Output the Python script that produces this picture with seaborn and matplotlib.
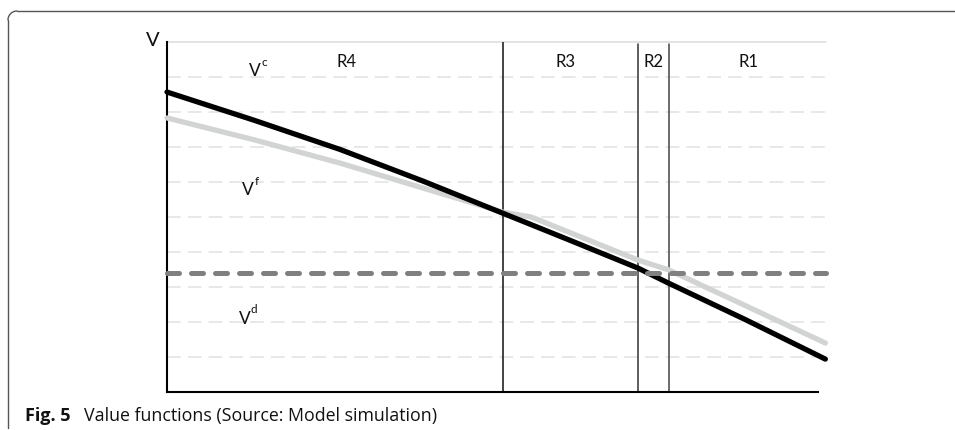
import matplotlib
matplotlib.use("Agg")
import matplotlib.pyplot as plt
import seaborn as sns
import pandas as pd
import numpy as np

# ---- data ----
x_c = [0, 13.3, 26.6, 39.3, 51.6, 62.0, 72.4, 77.1, 89.0, 101.2]
v_c = [8.57, 7.77, 6.93, 6.03, 5.11, 4.33, 3.54, 3.11, 2.06, 0.94]
x_f = [0, 13.3, 26.6, 39.3, 51.6, 56.0, 62.0, 72.4, 77.1, 89.0, 101.2]
v_f = [7.83, 7.21, 6.54, 5.83, 5.14, 5.0, 4.55, 3.77, 3.49, 2.46, 1.40]
v_d = 3.4
boundaries = [51.6, 72.4, 77.1]
region_labels = ["R4", "R3", "R2", "R1"]
region_label_x = [27.6, 61.3, 74.8, 89.4]
grid_levels = [1, 2, 3, 4, 5, 6, 7, 8, 9]

W, H = 955, 430
sns.set_theme(style="white")
plt.rcParams["font.family"] = ["Lato", "DejaVu Sans"]

fig = plt.figure(figsize=(W / 100, H / 100), dpi=100)
ax = fig.add_axes([167 / W, 1 - 392 / H, (826 - 167) / W, 350 / H])
ax.set_xlim(0, 101.3)
ax.set_ylim(0, 10)

# gridlines
for g in grid_levels:
    ax.axhline(g, color="#e2e2e2", lw=1.1, dashes=(9, 4.6), zorder=0)
ax.axhline(10, color="#e2e2e2", lw=1.3, zorder=0, clip_on=False)

# region boundaries
ax.axvline(boundaries[0], color="#111111", lw=1.1, zorder=1)
ax.axvline(boundaries[1], ymax=0.995, color="#333333", lw=1.1, zorder=1)
ax.axvline(boundaries[2], ymax=0.995, color="#444444", lw=1.1, zorder=1)

df_c = pd.DataFrame({"x": x_c, "v": v_c})
df_f = pd.DataFrame({"x": x_f, "v": v_f})
sns.lineplot(data=df_f, x="x", y="v", ax=ax, color="#d2d3d3", lw=3.8,
             solid_capstyle="round", solid_joinstyle="round",
             clip_on=False, zorder=3, sort=False)
sns.lineplot(data=df_c, x="x", y="v", ax=ax, color="black", lw=3.8,
             solid_capstyle="round", solid_joinstyle="round",
             clip_on=False, zorder=4, sort=False)
ax.axhline(v_d, color="#808080", lw=3.6, dashes=(2.4, 2.4),
           dash_capstyle="round", zorder=5, clip_on=False)

# spines
for s in ["top", "right"]:
    ax.spines[s].set_visible(False)
for s in ["left", "bottom"]:
    ax.spines[s].set_color("black")
    ax.spines[s].set_linewidth(1.5)
ax.spines["bottom"].set_bounds(0, 100)
ax.set_xticks([])
ax.set_yticks([])
ax.set_xlabel("")
ax.set_ylabel("")


def px(xp, yp):
    return xp / W, 1 - yp / H


# region labels
for lab, xx in zip(region_labels, region_label_x):
    ax.text(xx, 9.43, lab, ha="center", va="center", fontsize=12, color="#111111")


# V labels with superscripts
def vlabel(xc, yc, sup, sx, sy):
    fig.text(*px(xc, yc), "V", ha="center", va="center", fontsize=12.5, color="#111111")
    fig.text(*px(sx, sy), sup, ha="center", va="center", fontsize=8.5, color="#111111")


vlabel(255, 71.5, "c", 264, 63)
vlabel(248, 190, "f", 257, 181.5)
vlabel(245, 319, "d", 254, 309.5)

# axis label V
fig.text(*px(153, 41), "V", ha="center", va="center", fontsize=14.5, color="#111111")

# frame: top line and rounded top-left corner with left edge
fc = "#555555"
fig.lines.append(plt.Line2D([17 / W, 1], [1 - 11 / H, 1 - 11 / H],
                            transform=fig.transFigure, color=fc, lw=1.0))
fig.lines.append(plt.Line2D([8 / W, 8 / W], [1 - 20 / H, 1 - 428 / H],
                            transform=fig.transFigure, color=fc, lw=1.0))
th = np.linspace(np.pi / 2, np.pi, 20)
cx, cy, r = 17, 20, 9
fig.lines.append(plt.Line2D((cx + r * np.cos(th)) / W, 1 - (cy - r * np.sin(th)) / H,
                            transform=fig.transFigure, color=fc, lw=1.0))

# caption
fig.text(25 / W, 1 - 421 / H, "Fig. 5", fontsize=13, fontweight="bold",
         family=["Open Sans", "DejaVu Sans"], color="#111111", va="baseline")
fig.text(84 / W, 1 - 421 / H, "Value functions (Source: Model simulation)", fontsize=12.8,
         family=["Open Sans", "DejaVu Sans"], color="#111111", va="baseline")

fig.savefig("out.png", dpi=100)
